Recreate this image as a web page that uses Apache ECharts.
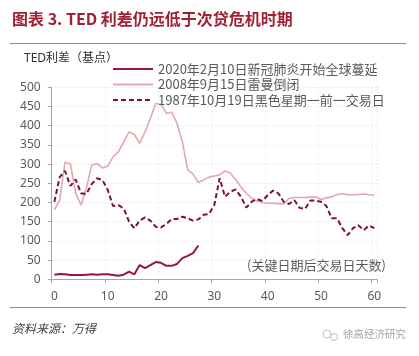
<!DOCTYPE html>
<html>
<head>
<meta charset="utf-8">
<script src="https://cdn.jsdelivr.net/npm/echarts@6/dist/echarts.min.js"></script>
<style>html,body{margin:0;padding:0;background:#fff;}#c{width:419px;height:356px;}</style>
</head>
<body>
<div id="c"></div>
<script>
var days = [0,1,2,3,4,5,6,7,8,9,10,11,12,13,14,15,16,17,18,19,20,21,22,23,24,25,26,27,28,29,30,31,32,33,34,35,36,37,38,39,40,41,42,43,44,45,46,47,48,49,50,51,52,53,54,55,56,57,58,59,60];
var covid2020 = [12,14,13,11,11,11,12,13,12,13,13,11,9,12,20,13,37,29,37,45,43,35,35,40,55,61,68,88];
var lehman2008 = [181,206,305,301,224,193,237,298,301,290,295,319,332,357,384,377,354,384,419,458,456,432,435,406,358,285,274,252,259,266,269,272,282,277,259,240,224,211,204,200,198,198,197,196,211,213,213,213,214,215,208,212,215,221,223,220,220,221,222,220,219];
var black1987 = [202,266,282,243,260,224,222,248,263,259,233,191,193,185,150,133,153,161,153,137,135,144,157,157,163,159,153,156,168,170,194,263,215,228,234,215,187,202,209,204,219,231,224,202,196,206,186,183,205,205,202,191,159,159,133,115,133,141,128,140,133];
var seriesNames = ['2020年2月10日新冠肺炎开始全球蔓延','2008年9月15日雷曼倒闭','1987年10月19日黑色星期一前一交易日'];

var chart = echarts.init(document.getElementById('c'), null, {renderer:'canvas'});
var FONT = "'Noto Sans','Noto Sans CJK SC',sans-serif";
var CJK = "'Noto Sans CJK SC',sans-serif";
chart.setOption({
  animation:false,
  backgroundColor:'#fff',
  textStyle:{fontFamily:FONT},
  grid:{left:51.7, right:42, top:87.3, bottom:76.7, containLabel:false},
  legend:{
    orient:'vertical', left:107, top:57.5, itemWidth:40, itemHeight:14, itemGap:2.5,
    itemStyle:{opacity:0, color:'transparent', borderWidth:0},
    textStyle:{fontFamily:CJK, fontSize:13, color:'#595959'},
    data:seriesNames
  },
  xAxis:{
    type:'category', data:days, boundaryGap:true,
    axisLine:{lineStyle:{color:'#a6a6a6'}},
    axisTick:{show:true, interval:9, length:4, lineStyle:{color:'#a6a6a6'}},
    axisLabel:{interval:9, margin:11, fontSize:12, color:'#595959', fontFamily:FONT},
    splitLine:{show:true, interval:9, lineStyle:{color:'#d9d9d9', type:[1,3]}}
  },
  yAxis:{
    type:'value', min:0, max:500, interval:50,
    axisLine:{show:true, lineStyle:{color:'#a6a6a6'}},
    axisTick:{show:true, length:4, lineStyle:{color:'#a6a6a6'}},
    axisLabel:{margin:11, fontSize:12, color:'#595959', fontFamily:FONT},
    splitLine:{show:true, lineStyle:{color:'#d9d9d9', type:[1,3]}}
  },
  series:[
    {name:seriesNames[0], type:'line', data:covid2020, symbol:'none', z:4,
     lineStyle:{color:'#96173a', width:2}, itemStyle:{color:'#96173a'}},
    {name:seriesNames[1], type:'line', data:lehman2008, symbol:'none', z:2,
     lineStyle:{color:'#e3a8aa', width:1.6}, itemStyle:{color:'#e3a8aa'}},
    {name:seriesNames[2], type:'line', data:black1987, symbol:'none', z:3,
     lineStyle:{color:'#7a1232', width:2, type:[5,3]}, itemStyle:{color:'#7a1232'}}
  ],
  graphic:[
    {type:'text', left:12, top:11, style:{text:'图表 3. TED 利差仍远低于次贷危机时期', fill:'#a31f34', font:'bold 16px '+CJK}},
    {type:'line', shape:{x1:10, y1:43.5, x2:406, y2:43.5}, style:{stroke:'#8c8c8c', lineWidth:1}},
    {type:'text', left:24, top:53, style:{text:'TED利差（基点）', fill:'#333333', font:'12px '+FONT}},
    {type:'text', left:247, top:259, style:{text:'(关键日期后交易日天数)', fill:'#595959', font:'13px '+CJK}},
    {type:'line', shape:{x1:10, y1:307.5, x2:406, y2:307.5}, style:{stroke:'#8c8c8c', lineWidth:1}},
    {type:'text', left:12, top:322, style:{text:'资料来源：万得', fill:'#404040', font:'italic 12px '+CJK}},
    {type:'circle', shape:{cx:327, cy:334, r:4}, style:{fill:'none', stroke:'#c0c0c0', lineWidth:1}},
    {type:'circle', shape:{cx:334, cy:337, r:3.5}, style:{fill:'#fff', stroke:'#c0c0c0', lineWidth:1}},
    {type:'text', left:343, top:329, style:{text:'徐高经济研究', fill:'#a6a6a6', font:'10.5px '+CJK}}
  ]
});
</script>
</body>
</html>
